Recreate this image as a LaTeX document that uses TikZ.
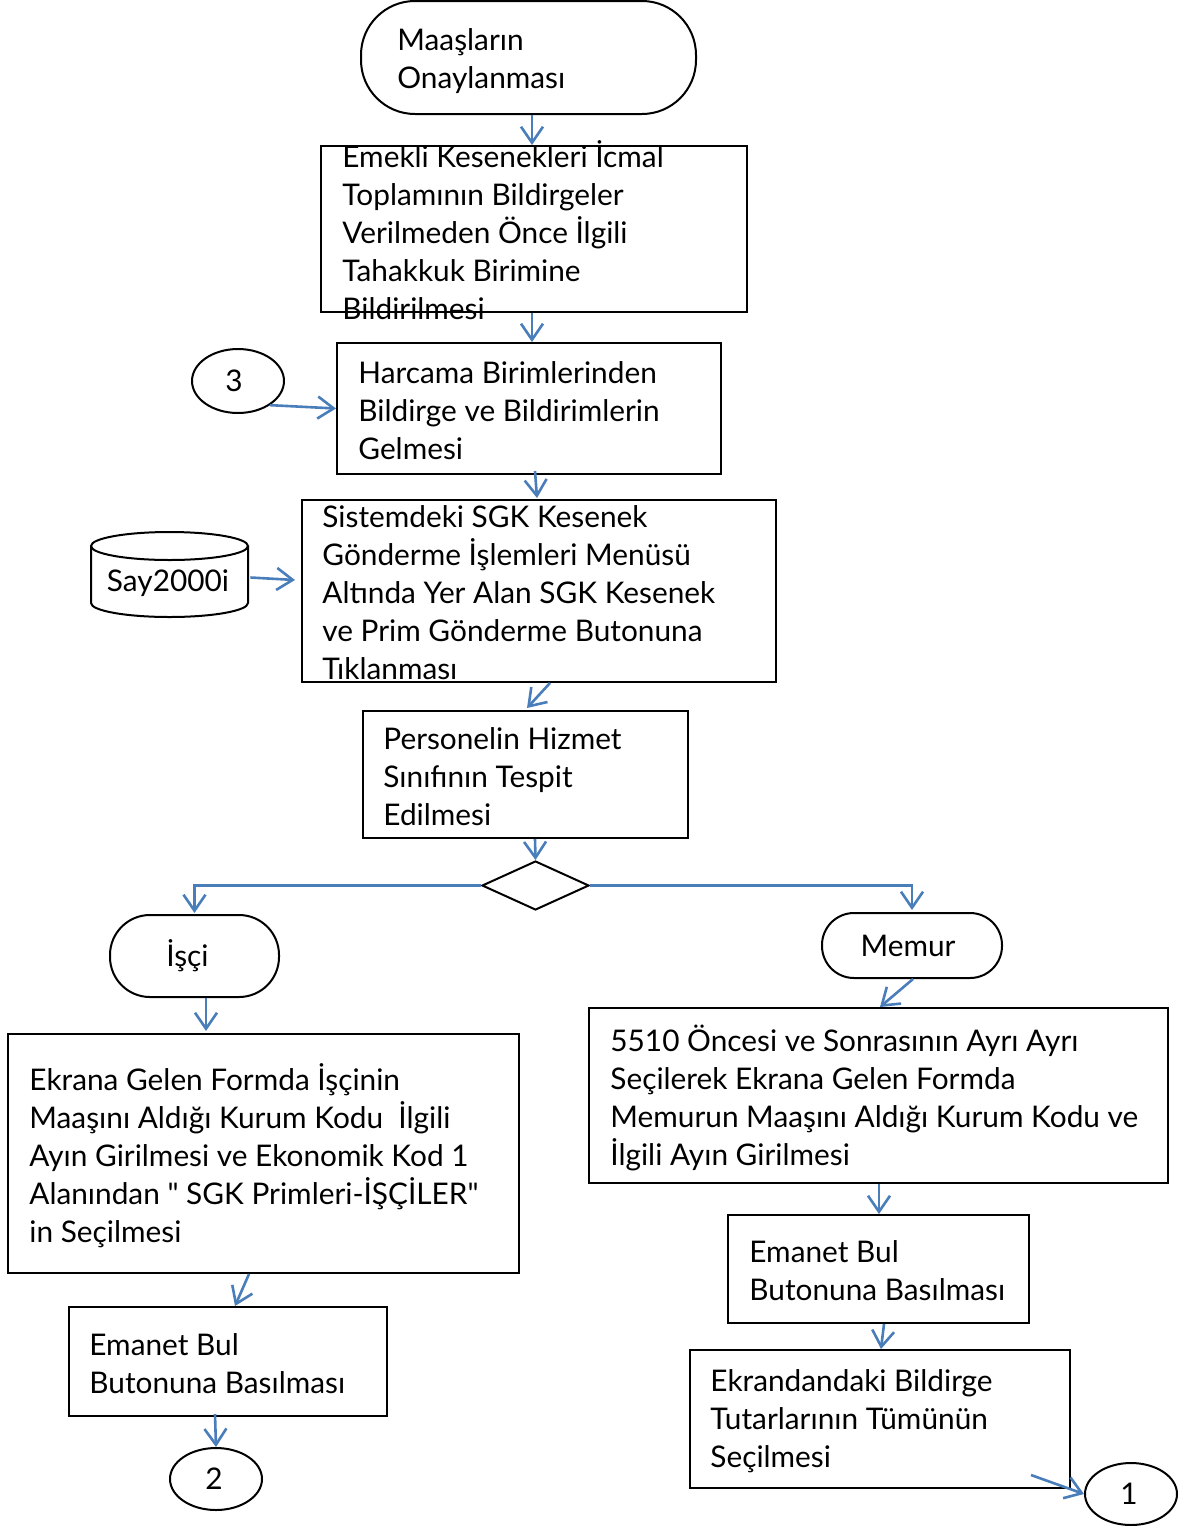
\documentclass[tikz,border=0pt]{standalone}
\usepackage{fontspec}
\setmainfont{Lato}
\usetikzlibrary{arrows.meta,shapes.geometric}
\definecolor{flow}{RGB}{74,126,187}
\tikzset{
  box/.style={draw=black,line width=1pt,rectangle,inner sep=0pt},
  term/.style={draw=black,line width=1pt,rectangle,inner sep=0pt},
  oval/.style={draw=black,line width=1pt,ellipse,inner sep=0pt,font=\fs},
  txt/.style={inner sep=0pt,align=left,font=\fs,anchor=west},
  arr/.style={draw=flow,line width=1.3pt,-{Straight Barb[length=8pt,width=11pt,line width=1.3pt]}},
  link/.style={draw=flow,line width=1.3pt}
}
\newcommand{\fs}{\fontsize{14.9}{19}\selectfont}
\newcommand{\dq}{\XeTeXglyph\XeTeXcharglyph"22\relax}
\begin{document}
\begin{tikzpicture}[x=0.5pt,y=-0.5pt]
\useasboundingbox (0,0) rectangle (1180,1526);
% start
\node[term,rounded corners=27pt,minimum width=167.5pt,minimum height=56.5pt] (start) at (528.5,57.5) {};
\node[txt] (startt) at ([xshift=18.5pt,yshift=-2pt]start.west) {Maaşların\\Onaylanması};
% b2
\node[box,minimum width=213pt,minimum height=83pt] (b2) at (534,229) {};
\node[txt] (b2t) at ([xshift=11pt,yshift=-0.5pt]b2.west) {Emekli Kesenekleri İcmal\\Toplamının Bildirgeler\\Verilmeden Önce İlgili\\Tahakkuk Birimine\\Bildirilmesi};
% b3
\node[box,minimum width=192pt,minimum height=65.5pt] (b3) at (529,408.5) {};
\node[txt] (b3t) at ([xshift=11pt,yshift=-1pt]b3.west) {Harcama Birimlerinden\\Bildirge ve Bildirimlerin\\Gelmesi};
% c3
\node[oval,minimum width=46pt,minimum height=32pt] (c3) at (238,381) {\hspace*{-4pt}3};
% b4
\node[box,minimum width=237pt,minimum height=91pt] (b4) at (539,591) {};
\node[txt] (b4t) at ([xshift=10.5pt,yshift=-1pt]b4.west) {Sistemdeki SGK Kesenek\\Gönderme İşlemleri Menüsü\\Altında Yer Alan SGK Kesenek\\ve Prim Gönderme Butonuna\\Tıklanması};
% cylinder
\node[inner sep=0pt,minimum width=78.5pt,minimum height=42.5pt,font=\fs] (db) at (169.5,574.5) {};
\node[font=\fs,inner sep=0pt] (dbt) at (168,583) {Say2000i};
\draw[line width=1pt] (169.5,546) ellipse [x radius=78.5, y radius=14];
\draw[line width=1pt] (91,546) -- (91,603) arc[start angle=180,end angle=0,x radius=78.5,y radius=14] -- (248,546);
% b5
\node[box,minimum width=162.5pt,minimum height=63.5pt] (b5) at (525.5,774.5) {};
\node[txt] (b5t) at ([xshift=10.5pt,yshift=-1pt]b5.west) {Personelin Hizmet\\Sınıfının Tespit\\Edilmesi};
% diamond
\node[draw=black,line width=1pt,diamond,inner sep=0pt,minimum width=53.5pt,minimum height=24.5pt] (dia) at (535.5,885.5) {};
% isci / memur
\node[term,rounded corners=20pt,minimum width=84.5pt,minimum height=41pt,font=\fs] (isci) at (194.5,956) {İşçi\hspace*{7pt}};
\node[term,rounded corners=16pt,minimum width=90pt,minimum height=32.5pt,font=\fs] (memur) at (912,945.5) {Memur\hspace*{4pt}};
% b6
\node[box,minimum width=255.5pt,minimum height=119.5pt] (b6) at (263.5,1153.5) {};
\node[txt] (b6t) at ([xshift=11pt,yshift=-1pt]b6.west) {Ekrana Gelen Formda İşçinin\\Maaşını Aldığı Kurum Kodu \ İlgili\\Ayın Girilmesi ve Ekonomik Kod 1\\Alanından \dq{} SGK Primleri-İŞÇİLER\dq\\in Seçilmesi};
% b7
\node[box,minimum width=289.5pt,minimum height=87.5pt] (b7) at (878.5,1095.5) {};
\node[txt] (b7t) at ([xshift=11pt,yshift=-1pt]b7.west) {5510 Öncesi ve Sonrasının Ayrı Ayrı\\Seçilerek Ekrana Gelen Formda\\Memurun Maaşını Aldığı Kurum Kodu ve\\İlgili Ayın Girilmesi};
% b8
\node[box,minimum width=159pt,minimum height=54.5pt] (b8) at (228,1361.5) {};
\node[txt] (b8t) at ([xshift=10.5pt,yshift=-1pt]b8.west) {Emanet Bul\\Butonuna Basılması};
% c2
\node[oval,minimum width=46pt,minimum height=31pt] (c2) at (216,1479) {\hspace*{-2pt}2};
% b9
\node[box,minimum width=150.5pt,minimum height=54pt] (b9) at (878.5,1269) {};
\node[txt] (b9t) at ([xshift=11pt,yshift=-1pt]b9.west) {Emanet Bul\\Butonuna Basılması};
% b10
\node[box,minimum width=190pt,minimum height=69pt] (b10) at (880,1419) {};
\node[txt] (b10t) at ([xshift=10.5pt,yshift=-1pt]b10.west) {Ekrandandaki Bildirge\\Tutarlarının Tümünün\\Seçilmesi};
% c1
\node[oval,minimum width=46pt,minimum height=31pt] (c1) at (1131,1494) {\hspace*{-2pt}1};
% connectors
\draw[arr] ([xshift=1.75pt]start.south) -- ([xshift=-1pt]b2.north);
\draw[arr] ([xshift=-1pt]b2.south) -- ([xshift=1.5pt]b3.north);
\draw[arr] (c3.-37) -- (b3.west);
\draw[arr] ([xshift=3pt,yshift=2pt]b3.south) -- ([xshift=-1pt,yshift=0.5pt]b4.north);
\draw[arr] ([xshift=1pt,yshift=-1.5pt]db.east) -- ([xshift=-3pt,yshift=5.5pt]b4.west);
\draw[arr] ([xshift=5.5pt]b4.south) -- ([xshift=0.75pt,yshift=1pt]b5.north);
\draw[arr] ([xshift=4.75pt]b5.south) -- (dia.north);
\draw[arr] (dia.west) -| ([yshift=0.5pt]isci.north);
\draw[arr] (dia.east) -| ([yshift=1pt]memur.north);
\draw[arr] ([xshift=5.75pt]isci.south) -- ([xshift=-28.75pt,yshift=1pt]b6.north);
\draw[arr] ([xshift=0.5pt]memur.south) -- ([xshift=0.75pt]b7.north);
\draw[arr] ([xshift=-7.25pt]b6.south) -- ([xshift=3.5pt]b8.north);
\draw[arr] ([xshift=-6.5pt,yshift=1.5pt]b8.south) -- (c2.north);
\draw[arr] ([xshift=0.25pt]b7.south) -- ([xshift=0.25pt]b9.north);
\draw[arr] ([xshift=2.75pt]b9.south) -- ([xshift=0.5pt]b10.north);
\draw[arr] ([xshift=-20pt,yshift=-28pt]b10.east) -- (c1.west);
\end{tikzpicture}
\end{document}
